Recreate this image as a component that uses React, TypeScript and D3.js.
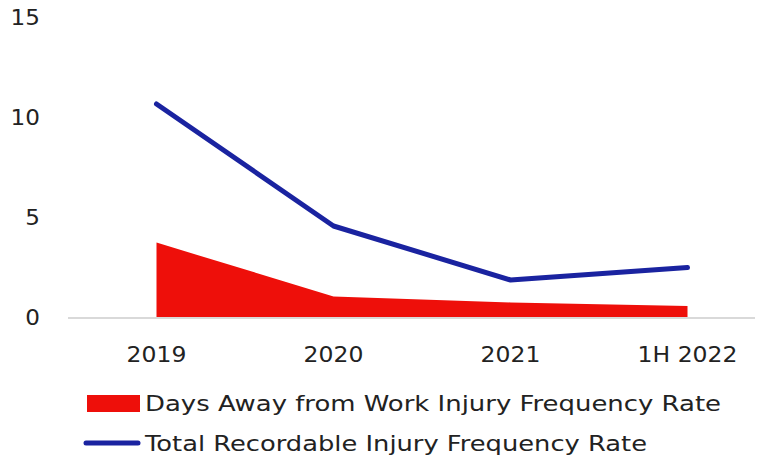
import React from "react";
import * as d3 from "d3";

const categories = ["2019", "2020", "2021", "1H 2022"];
const daysAway = [3.77, 1.08, 0.78, 0.6];
const totalRecordable = [10.7, 4.6, 1.9, 2.52];
const yTicks = [0, 5, 10, 15];
const legendLabels = [
  "Days Away from Work Injury Frequency Rate",
  "Total Recordable Injury Frequency Rate",
];

const W = 769;
const H = 457;
const RED = "#EE0F0A";
const BLUE = "#1A23A0";
const FONT = "'DejaVu Sans', sans-serif";

export default function App() {
  const x = d3.scaleBand<string>().domain(categories).range([68, 776]).padding(0);
  const cx = (c: string) => (x(c) as number) + x.bandwidth() / 2;
  const y = d3.scaleLinear().domain([0, 15]).range([318, 18]);

  const area = d3
    .area<number>()
    .x((_, i) => cx(categories[i]))
    .y0(y(0))
    .y1((d) => y(d));
  const line = d3
    .line<number>()
    .x((_, i) => cx(categories[i]))
    .y((d) => y(d));

  return (
    <svg
      width={W}
      height={H}
      style={{ position: "absolute", left: 0, top: 0, background: "#fff" }}
      fontFamily={FONT}
    >
      <path d={area(daysAway) || ""} fill={RED} />
      <line x1={68} x2={755} y1={y(0)} y2={y(0)} stroke="#d9d9d9" strokeWidth={2} />
      <path
        d={line(totalRecordable) || ""}
        fill="none"
        stroke={BLUE}
        strokeWidth={5}
        strokeLinecap="round"
        strokeLinejoin="round"
      />
      {yTicks.map((t) => (
        <text
          key={t}
          x={40}
          y={y(t)}
          dy="0.35em"
          textAnchor="end"
          fontSize={21}
          fill="#222"
          transform={`translate(40,0) scale(1.1,1) translate(-40,0)`}
        >
          {t}
        </text>
      ))}
      {categories.map((c) => (
        <text
          key={c}
          x={cx(c)}
          y={362}
          textAnchor="middle"
          fontSize={21}
          fill="#222"
          transform={`translate(${cx(c)},0) scale(1.12,1) translate(${-cx(c)},0)`}
        >
          {c}
        </text>
      ))}
      <rect x={87} y={395} width={53} height={17} fill={RED} />
      <text
        x={145}
        y={411}
        fontSize={21}
        fill="#222"
        textLength={576}
        lengthAdjust="spacingAndGlyphs"
      >
        {legendLabels[0]}
      </text>
      <line
        x1={86}
        x2={138}
        y1={443}
        y2={443}
        stroke={BLUE}
        strokeWidth={5}
        strokeLinecap="round"
      />
      <text
        x={145}
        y={451}
        fontSize={21}
        fill="#222"
        textLength={502}
        lengthAdjust="spacingAndGlyphs"
      >
        {legendLabels[1]}
      </text>
    </svg>
  );
}
